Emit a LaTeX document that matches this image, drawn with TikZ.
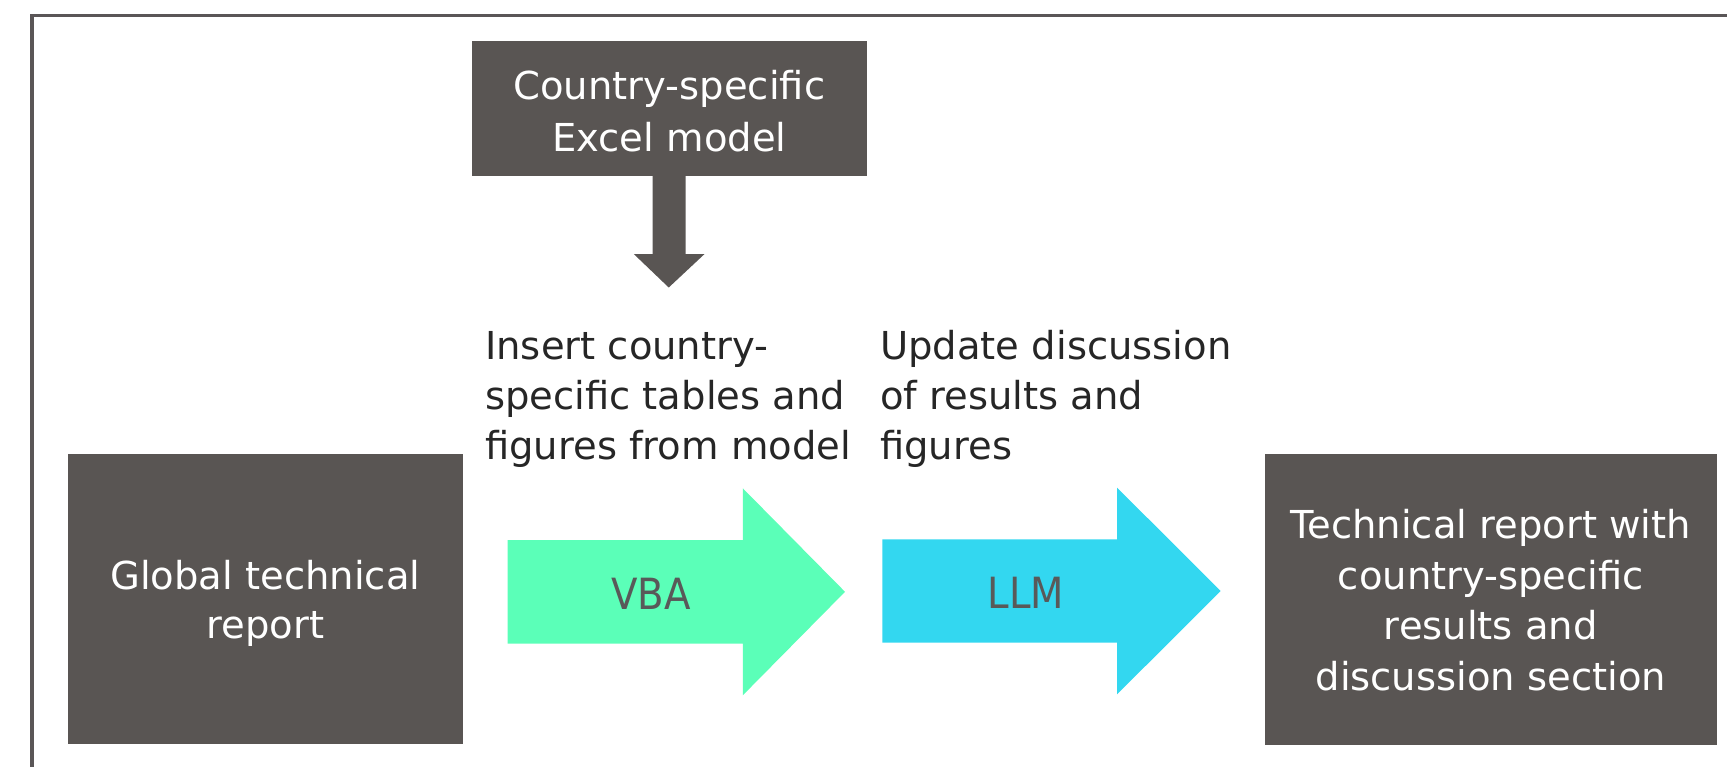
\documentclass[tikz,border=0pt]{standalone}
\usepackage{fontspec}
\setmainfont{DejaVu Sans}
\newfontfamily\condfont{DejaVu Sans Condensed}
\usetikzlibrary{calc}
\definecolor{boxgrey}{HTML}{595553}
\definecolor{framegrey}{HTML}{5A5657}
\definecolor{mint}{HTML}{5BFFB8}
\definecolor{sky}{HTML}{33D7F0}
\definecolor{labelink}{HTML}{262626}
\definecolor{arrowink}{HTML}{595959}

\begin{document}
\begin{tikzpicture}[x=1pt,y=-1pt,
  darkbox/.style={fill=boxgrey, inner sep=0pt},
  boxtext/.style={anchor=base, text=white, align=center, inner sep=0pt},
  steplabel/.style={anchor=base west, align=left, inner sep=0pt, text=labelink,
    font=\fontsize{38.5}{50}\selectfont},
  tooltext/.style={text=arrowink, inner sep=0pt,
    font=\condfont\fontsize{43}{50}\selectfont}]
\useasboundingbox (0,0) rectangle (1727,767);

% outer frame, running past the right and bottom edges
\begin{scope}
  \clip (0,0) rectangle (1727,767);
  \draw[framegrey, line width=3.5pt] (32,15.5) rectangle (1780,820);
\end{scope}

% report boxes and model box (the base anchor of a text block is its last baseline)
\node[darkbox, minimum width=395.3pt, minimum height=290.5pt] (glob) at (265.4,599.2) {};
\node[boxtext, font=\fontsize{38.5}{49}\selectfont] (globtext) at ($(glob.center)+(0,38.8)$)
  {Global technical\\report};
\node[darkbox, minimum width=394.9pt, minimum height=134.7pt] (excel) at (669.35,108.35) {};
\node[boxtext, font=\fontsize{38.5}{51.7}\selectfont] (exceltext) at ($(excel.center)+(0,43.35)$)
  {Country-specific\\Excel model};
\node[darkbox, minimum width=451.6pt, minimum height=290.7pt] (final) at (1490.8,599.35) {};
\node[boxtext, font=\fontsize{38.5}{50.5}\selectfont] (finaltext) at ($(final.center)+(0,90.65)$)
  {Technical report with\\country-specific\\results and\\discussion section};

% block arrow from the model down to the first step
\fill[boxgrey] ($(excel.south)+(-16.8,0)$) -- ($(excel.south)+(16.2,0)$)
  -- ++(0,78.3) -- ++(18.8,0) -- ($(excel.south)+(-0.6,111.6)$)
  -- ($(excel.south)+(-35.4,78.3)$) -- ($(excel.south)+(-16.8,78.3)$) -- cycle;

% block arrows for the two processing steps
\coordinate (vbatail) at (507.5,591.8);
\coordinate (llmtail) at (882.3,591.0);
\fill[mint] (vbatail) ++(0,-51.8) -- ++(235.3,0) -- ++(0,-51.7) -- ++(102.2,103.5)
  -- ++(-102.2,103.5) -- ++(0,-51.7) -- ++(-235.3,0) -- cycle;
\fill[sky] (llmtail) ++(0,-51.7) -- ++(234.7,0) -- ++(0,-51.7) -- ++(103.7,103.4)
  -- ++(-103.7,103.4) -- ++(0,-51.7) -- ++(-234.7,0) -- cycle;
\node[tooltext] (vba) at (651,593.8) {VBA};
\node[tooltext] (llm) at (1026,592.5) {LLM};

% step descriptions
\node[steplabel] (lab1) at (485,459) {Insert country-\\specific tables and\\figures from model};
\node[steplabel] (lab2) at (880,459) {Update discussion\\of results and\\figures};
\end{tikzpicture}
\end{document}
